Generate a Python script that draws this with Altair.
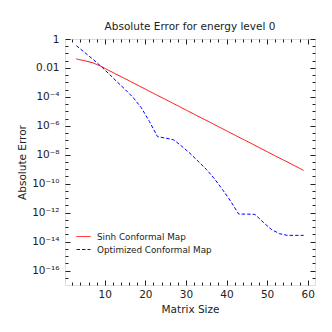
import altair as alt
import pandas as pd

# ---- data ----
matrix_size = [3, 5, 7, 9, 11, 13, 15, 17, 19, 21, 23, 25, 27, 29, 31, 33, 35, 37, 39, 41,
               43, 45, 47, 49, 51, 53, 55, 57, 59]
sinh_error = [4.17e-2, 3.16e-2, 2.29e-2, 1.32e-2, 6.76e-3, 3.47e-3, 1.82e-3, 9.33e-4, 4.79e-4,
              2.45e-4, 1.26e-4, 6.61e-5, 3.39e-5, 1.74e-5, 8.91e-6, 4.57e-6, 2.40e-6, 1.23e-6,
              6.31e-7, 3.24e-7, 1.66e-7, 8.71e-8, 4.47e-8, 2.29e-8, 1.17e-8, 6.03e-9, 3.16e-9,
              1.62e-9, 8.32e-10]
opt_error = [0.347, 0.120, 4.17e-2, 1.35e-2, 3.98e-3, 1.12e-3, 3.31e-4, 8.91e-5, 1.78e-5,
             2.00e-6, 1.78e-7, 1.41e-7, 1.07e-7, 3.80e-8, 1.26e-8, 3.55e-9, 1.0e-9, 2.24e-10,
             3.98e-11, 6.31e-12, 7.94e-13, 7.94e-13, 7.59e-13, 2.24e-13, 7.08e-14, 3.55e-14,
             2.69e-14, 2.69e-14, 2.69e-14]
series_names = ["Sinh Conformal Map", "Optimized Conformal Map"]
series_colors = ["#ff0000", "#0000ff"]

x_major = [10, 20, 30, 40, 50, 60]
x_minor = [2, 4, 6, 8, 12, 14, 16, 18, 22, 24, 26, 28, 32, 34, 36, 38, 42, 44, 46, 48,
           52, 54, 56, 58]
y_major_exp = [0, -2, -4, -6, -8, -10, -12, -14, -16]
y_major_labels = ["1", "0.01", "10\u207b\u2074", "10\u207b\u2076", "10\u207b\u2078",
                  "10\u207b\u00b9\u2070", "10\u207b\u00b9\u00b2", "10\u207b\u00b9\u2074",
                  "10\u207b\u00b9\u2076"]
y_minor_exp = [-0.5, -1, -1.5, -2.5, -3, -3.5, -4.5, -5, -5.5, -6.5, -7, -7.5, -8.5, -9, -9.5,
               -10.5, -11, -11.5, -12.5, -13, -13.5, -14.5, -15, -15.5, -16.5]

y_major = [10.0 ** e for e in y_major_exp]
y_minor = [10.0 ** e for e in y_minor_exp]

df = pd.DataFrame({
    "size": matrix_size * 2,
    "err": sinh_error + opt_error,
    "series": [series_names[0]] * len(matrix_size) + [series_names[1]] * len(matrix_size),
})

label_expr = "''"
for e, lab in reversed(list(zip(y_major_exp, y_major_labels))):
    label_expr = f"round(log(datum.value)/LN10) == {e} ? '{lab}' : ({label_expr})"

FONT = "DejaVu Sans"
TXT = "#222222"
xscale = alt.Scale(domain=[0.2, 61.8], nice=False, zero=False)
yscale = alt.Scale(type="log", domain=[1e-17, 1], nice=False)

common = dict(domain=False, grid=False, tickColor="#222222", tickWidth=1,
              labelFont=FONT, labelFontSize=10.5, labelColor=TXT,
              titleFont=FONT, titleFontSize=10.5, titleColor=TXT,
              titleFontWeight="normal", labelFlush=False, labelOverlap=False)

# Layer 1: the data lines, left/bottom major axes with labels
lines = alt.Chart(df).mark_line(strokeWidth=1).encode(
    x=alt.X("size:Q", scale=xscale,
            axis=alt.Axis(orient="bottom", values=x_major, offset=-5, tickSize=5,
                          labelPadding=4, title="Matrix Size", titlePadding=5, **common)),
    y=alt.Y("err:Q", scale=yscale,
            axis=alt.Axis(orient="left", values=y_major, offset=-5, tickSize=5,
                          labelPadding=6, labelExpr=label_expr,
                          title="Absolute Error", titlePadding=4, **common)),
    color=alt.Color("series:N", sort=series_names,
                    scale=alt.Scale(domain=series_names, range=series_colors),
                    legend=alt.Legend(title=None, orient="none", legendX=11, legendY=190,
                                      symbolType="stroke", symbolSize=196, symbolStrokeWidth=1,
                                      labelFont=FONT, labelFontSize=8.8, labelColor=TXT,
                                      labelOffset=6, rowPadding=0, padding=0)),
    strokeDash=alt.StrokeDash("series:N", sort=series_names,
                              scale=alt.Scale(domain=series_names, range=[[1, 0], [3.5, 2]]),
                              legend=None),
)


def tick_layer(xo, yo, xv, yv, size):
    noaxis = dict(labels=False, title=None)
    return alt.Chart(df).mark_line(strokeOpacity=0).encode(
        x=alt.X("size:Q", scale=xscale,
                axis=alt.Axis(orient=xo, values=xv, offset=-size, tickSize=size,
                              **noaxis, **{k: v for k, v in common.items()
                                           if not k.startswith("title")})),
        y=alt.Y("err:Q", scale=yscale,
                axis=alt.Axis(orient=yo, values=yv, offset=-size, tickSize=size,
                              **noaxis, **{k: v for k, v in common.items()
                                           if not k.startswith("title")})),
    )


chart = alt.layer(
    lines,
    tick_layer("bottom", "left", x_minor, y_minor, 3),
    tick_layer("top", "right", x_major, y_major, 5),
    tick_layer("top", "right", x_minor, y_minor, 3),
).resolve_axis(x="independent", y="independent").properties(
    width=250, height=246,
    title=alt.TitleParams("Absolute Error for energy level 0", font=FONT, fontSize=10.5,
                          fontWeight="normal", color=TXT, anchor="middle", offset=2),
    autosize=alt.AutoSizeParams(type="none"),
    padding={"left": 57, "top": 31, "right": 9, "bottom": 39},
).configure_view(stroke="#222222", strokeWidth=1).configure(background="white")

chart.save("out.html", embed_options={"renderer": "svg", "actions": False})
